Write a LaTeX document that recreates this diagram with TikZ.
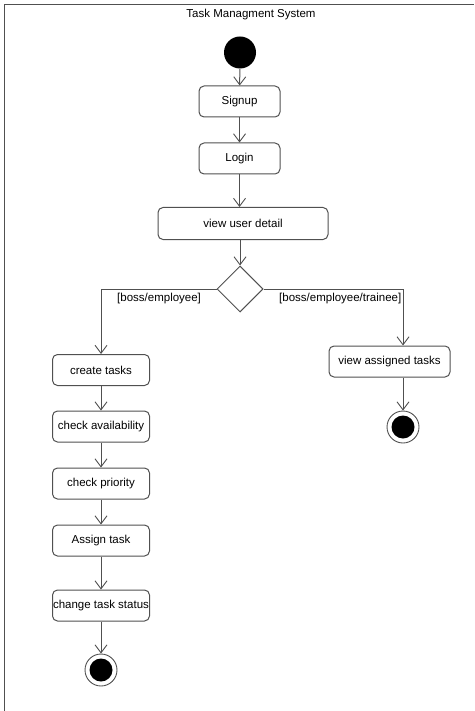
\documentclass[tikz,border=0pt]{standalone}
\usepackage{fontspec}
\setmainfont{Liberation Sans}
\usetikzlibrary{arrows.meta,shapes.geometric}
\definecolor{ln}{HTML}{505050}
\tikzset{
  act/.style={draw=ln, line width=1pt, rounded corners=5pt, minimum width=97pt, minimum height=31pt, inner sep=0pt, font=\fontsize{11.5pt}{13pt}\selectfont},
  flow/.style={draw=ln, line width=1pt, -{Straight Barb[length=8pt,width=12pt,line width=0.9pt]}},
  startnode/.style={circle, fill=black, minimum size=32pt, inner sep=0pt},
  endnode/.style={circle, draw=ln, line width=0.9pt, minimum size=32pt, inner sep=0pt,
    path picture={\fill[black] (path picture bounding box.center) circle (11.5pt);}},
  guard/.style={font=\fontsize{11.5pt}{13pt}\selectfont, inner sep=0pt},
  frame/.style={draw=ln, line width=1.2pt}
}
\begin{document}
\begin{tikzpicture}[x=1pt,y=-1pt]
\useasboundingbox (0,0) rectangle (474,711);
\coordinate (ftop) at (474,4.5);
\coordinate (fcorner) at (4.5,4.5);
\coordinate (fbot) at (4.5,711);
\draw[frame] (ftop) -- (fcorner) -- (fbot);
\node[guard] (title) at (251,15) {Task Managment System};
\node[startnode] (start) at (240,52.5) {};
\node[act, minimum width=81pt] (signup) at (239.5,101.5) {Signup};
\node[act, minimum width=81pt] (login) at (239.5,158.5) {Login};
\node[act, minimum width=170pt, minimum height=32pt] (vud) at (243,223.5) {view user detail};
\node[diamond, draw=ln, line width=1pt, minimum width=46pt, minimum height=46pt, inner sep=0pt] (dia) at (240,289) {};
\node[act] (ct) at (101,370) {create tasks};
\node[act] (ca) at (101,426.5) {check availability};
\node[act] (cp) at (101,483.5) {check priority};
\node[act] (at) at (101,540.5) {Assign task};
\node[act] (cs) at (101,605.5) {change task status};
\node[endnode] (end1) at (101,670) {};
\node[act, minimum width=121pt] (va) at (389.5,361.5) {view assigned tasks};
\node[endnode] (end2) at (403,427) {};
\node[guard, anchor=west] (g1) at (117,298.5) {[boss/employee]};
\node[guard, anchor=west] (g2) at (279,298.5) {[boss/employee/trainee]};
\draw[flow] (start) -- (signup);
\draw[flow] (signup) -- (login);
\draw[flow] (login.south) -- (login.south |- vud.north);
\draw[flow] (vud.south -| dia.north) -- (dia.north);
\draw[flow] (dia.west) -| (ct.north);
\draw[flow] (dia.east) -| ([xshift=13.5pt]va.north);
\draw[flow] (ct) -- (ca);
\draw[flow] (ca) -- (cp);
\draw[flow] (cp) -- (at);
\draw[flow] (at) -- (cs);
\draw[flow] (cs) -- (end1);
\draw[flow] ([xshift=13.5pt]va.south) -- (end2);
\end{tikzpicture}
\end{document}
